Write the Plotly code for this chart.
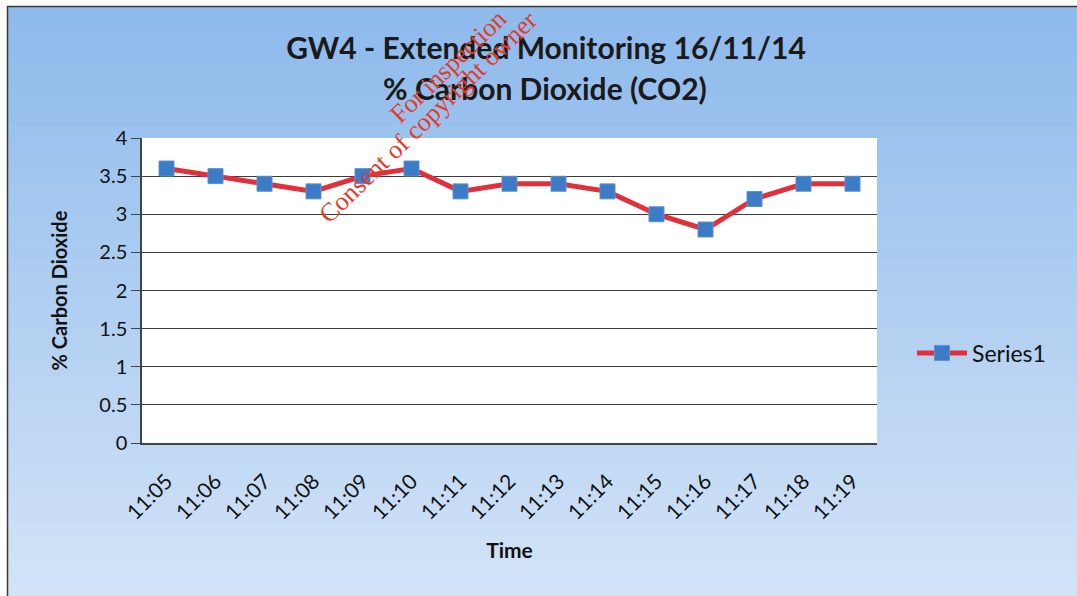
import plotly.graph_objects as go

times = ["11:05", "11:06", "11:07", "11:08", "11:09", "11:10", "11:11", "11:12",
         "11:13", "11:14", "11:15", "11:16", "11:17", "11:18", "11:19"]
co2 = [3.6, 3.5, 3.4, 3.3, 3.5, 3.6, 3.3, 3.4, 3.4, 3.3, 3.0, 2.8, 3.2, 3.4, 3.4]
series_name = "Series1"
title_lines = ["GW4 - Extended Monitoring 16/11/14", "% Carbon Dioxide (CO2)"]
watermark = ["For inspection", "Consent of copyright owner"]

W, H = 1077, 596
L, R, T, B = 142, 200, 138, 153
PW, PH = W - L - R, H - T - B

def px_x(px):
    return (px - L) / PW

def px_y(py):
    return (H - B - py) / PH

FONT = "Lato"
fig = go.Figure()
fig.add_trace(go.Scatter(
    x=times, y=co2, mode="lines+markers", name=series_name,
    line=dict(color="#E0313B", width=5),
    marker=dict(symbol="square", size=15, color="#3C7BC6",
                line=dict(color="#5A92D4", width=1)),
))

# gradient background strips
shapes = []
top_c = (142, 186, 236)
bot_c = (210, 227, 247)
n = 40
y_top, y_bot = 7, H
for i in range(n):
    f = i / (n - 1)
    c = tuple(int(round(top_c[k] + (bot_c[k] - top_c[k]) * f)) for k in range(3))
    ya = y_top + (y_bot - y_top) * i / n
    yb = y_top + (y_bot - y_top) * (i + 1) / n
    shapes.append(dict(type="rect", xref="paper", yref="paper", layer="below",
                       x0=px_x(7), x1=px_x(W + 2), y0=px_y(yb + 1), y1=px_y(ya),
                       fillcolor="rgb(%d,%d,%d)" % c, line=dict(width=0)))
shapes.append(dict(type="rect", xref="paper", yref="paper", layer="below",
                   x0=0, x1=1, y0=0, y1=1, fillcolor="white", line=dict(width=0)))
# frame lines
shapes.append(dict(type="line", xref="paper", yref="paper", x0=px_x(7), x1=px_x(W + 2),
                   y0=px_y(6.5), y1=px_y(6.5), line=dict(color="#3a3a3a", width=1.5)))
shapes.append(dict(type="line", xref="paper", yref="paper", x0=px_x(7.5), x1=px_x(7.5),
                   y0=px_y(6), y1=px_y(H + 2), line=dict(color="#3a3a3a", width=1.5)))

wm_font = dict(family="Liberation Serif", size=26, color="#E23B2A")
annotations = [
    dict(text="<b>" + title_lines[1] + "</b>", xref="paper", yref="paper",
         x=px_x(545), y=px_y(88), xanchor="center", yanchor="middle", showarrow=False,
         font=dict(family=FONT, size=30, color="#1a1a1a")),
    dict(text=watermark[0], xref="paper", yref="paper", x=px_x(448), y=px_y(66),
         xanchor="center", yanchor="middle", textangle=-44, showarrow=False, font=wm_font),
    dict(text=watermark[1], xref="paper", yref="paper", x=px_x(428), y=px_y(118),
         xanchor="center", yanchor="middle", textangle=-44, showarrow=False, font=wm_font),
]

fig.update_layout(
    width=W, height=H,
    margin=dict(l=L, r=R, t=T, b=B),
    paper_bgcolor="white", plot_bgcolor="white",
    font=dict(family=FONT, color="#111111"),
    title=dict(text="<b>" + title_lines[0] + "</b>",
               x=546 / W, xanchor="center", y=1 - 48 / H, yanchor="middle",
               font=dict(family=FONT, size=30, color="#1a1a1a")),
    shapes=shapes, annotations=annotations,
    showlegend=True,
    legend=dict(x=px_x(912), y=px_y(353), xanchor="left", yanchor="middle",
                bgcolor="rgba(0,0,0,0)", font=dict(family=FONT, size=23, color="#111111"),
                itemwidth=50),
    xaxis=dict(type="category", range=[-0.5, len(times) - 0.5], tickangle=-45,
               tickfont=dict(family=FONT, size=21, color="#111111"),
               ticklabelstandoff=16,
               showgrid=False, showline=True, linecolor="#444444", linewidth=1.5,
               ticks="", title=dict(text="<b>Time</b>", standoff=20,
                                    font=dict(family=FONT, size=21, color="#111111"))),
    yaxis=dict(range=[0, 4], dtick=0.5, tick0=0,
               tickfont=dict(family=FONT, size=20, color="#111111"),
               showgrid=True, gridcolor="#3c3c3c", gridwidth=1.3,
               showline=True, linecolor="#444444", linewidth=1.5,
               ticks="outside", ticklen=9, tickcolor="#444444",
               zeroline=False,
               title=dict(text="<b>% Carbon Dioxide</b>", standoff=26,
                          font=dict(family=FONT, size=20, color="#111111"))),
)

fig.write_html("out.html", config={"displayModeBar": False},
               post_script="document.body.style.margin='0';")
